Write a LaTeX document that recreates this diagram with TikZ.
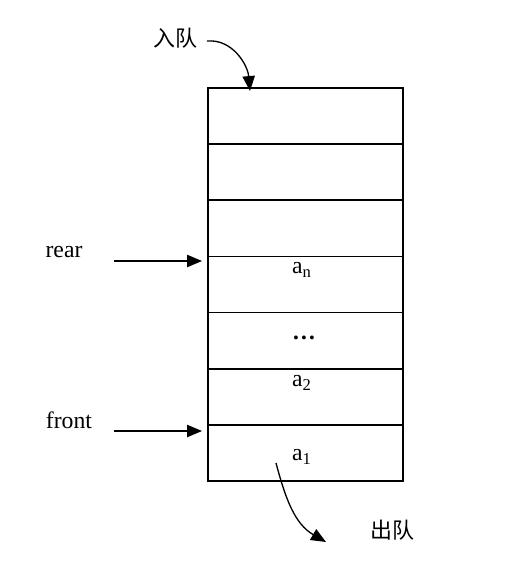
\documentclass[tikz,border=0pt]{standalone}
\usepackage{fontspec}
\setmainfont{Liberation Serif}
\newfontfamily\cjk{Noto Sans CJK SC}
\usetikzlibrary{arrows.meta}

\begin{document}
\begin{tikzpicture}[x=0.02cm,y=-0.02cm,font=\fontsize{13.5}{16}\selectfont,
  cell/.style={draw,line width=1pt,minimum width=3.9cm,minimum height=1.123cm,inner sep=0pt},
  ptr/.style={-{Triangle[length=8.5pt,width=7pt]},line width=0.75pt}]
  \useasboundingbox (0,0) rectangle (510,582);
  % the queue cells, top to bottom
  \node [cell] (c1) at (305.5,116.1) {};
  \node [cell] (c2) at (305.5,172.2) {};
  \node [cell] (c3) at (305.5,228.4) {};
  \node [cell] (c4) at (305.5,284.5) {};
  \node [cell] (c5) at (305.5,340.6) {};
  \node [cell] (c6) at (305.5,396.8) {};
  \node [cell] (c7) at (305.5,452.9) {};
  \node (an) at (302,270) {a\textsubscript{n}};
  \node (dots) at (304,338) {\textbf{\dots}};
  \node (atwo) at (302,383) {a\textsubscript{2}};
  \node (aone) at (302,457) {a\textsubscript{1}};
  % pointers
  \node (rear) at (64,252) {rear};
  \node (front) at (69,420) {front};
  \coordinate (rearfrom) at (114,261);
  \coordinate (rearto) at (202,261);
  \coordinate (frontfrom) at (114,431);
  \coordinate (frontto) at (202,431);
  \draw [ptr] (rearfrom) -- (rearto);
  \draw [ptr] (frontfrom) -- (frontto);
  % in and out
  \node (enq) at (175,38) {\cjk\fontsize{12.5}{15}\selectfont 入队};
  \node (deq) at (392,530) {\cjk\fontsize{12.5}{15}\selectfont 出队};
  \coordinate (enqfrom) at (207,41);
  \coordinate (enqto) at (250,91);
  \coordinate (deqfrom) at (276,463);
  \coordinate (deqto) at (326,542);
  \draw [ptr] (enqfrom) to [out=5,in=95] (enqto);
  \draw [ptr] (deqfrom) to [out=-75,in=150] (deqto);
\end{tikzpicture}
\end{document}
